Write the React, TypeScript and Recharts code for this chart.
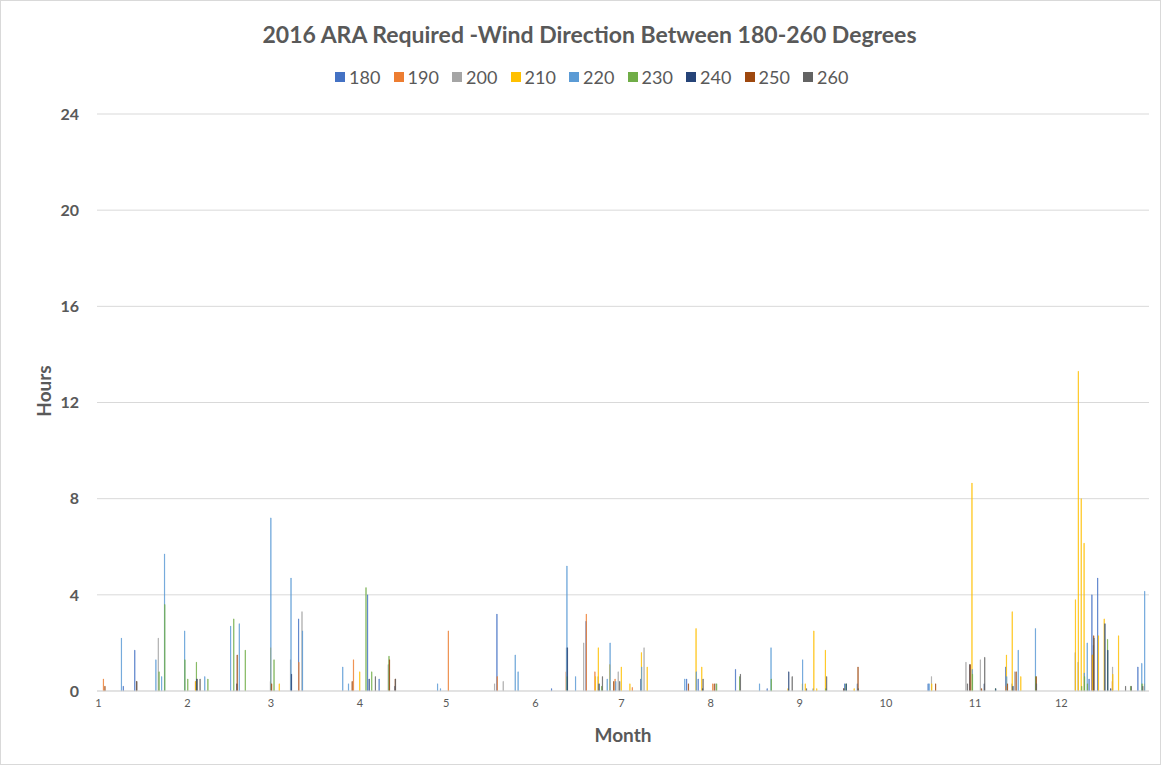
import { BarChart, Bar, XAxis, YAxis, CartesianGrid } from 'recharts';

// day-of-year (2016, leap year) on which each month starts
const monthStarts = [1, 32, 61, 92, 122, 153, 183, 214, 245, 275, 306, 336];
const hourTicks = [0, 4, 8, 12, 16, 20, 24];
const days = Array.from({ length: 366 }, (_, i) => i + 1);

// [day of year, hours] per wind direction
const dir180: [number, number][] = [
  [10, 0.2], [14, 1.7], [71, 3.0], [95, 4.0], [99, 0.5], [140, 3.2], [159, 0.1],
  [171, 2.9], [190, 0.5], [206, 0.5], [210, 0.5], [223, 0.9], [234, 0.1], [250, 0.1],
  [261, 0.3], [290, 0.3], [317, 1.0], [346, 0.5], [347, 4.0], [349, 4.7], [363, 1.0],
];
const dir190: [number, number][] = [
  [3, 0.5], [35, 0.4], [71, 1.2], [90, 1.3], [123, 2.5], [140, 0.6], [164, 0.8],
  [171, 3.2], [174, 0.8], [181, 0.5], [187, 0.15], [215, 0.3], [317, 0.2], [347, 1.5],
  [354, 0.4],
];
const dir200: [number, number][] = [
  [22, 2.2], [61, 0.4], [68, 1.3], [72, 3.3], [102, 1.1], [139, 0.3], [142, 0.4],
  [164, 1.8], [170, 2.0], [175, 0.6], [182, 0.8], [191, 1.8], [216, 0.3], [291, 0.6],
  [303, 1.2], [308, 1.3], [319, 0.3], [320, 0.8], [341, 1.6], [342, 1.2], [354, 1.0],
];
const dir210: [number, number][] = [
  [35, 0.4], [61, 1.8], [64, 0.3], [92, 0.8], [174, 0.6], [175, 1.8], [179, 1.1],
  [183, 1.0], [186, 0.3], [190, 1.6], [192, 1.0], [209, 2.6], [211, 1.0], [241, 0.1],
  [246, 0.3], [247, 0.3], [250, 2.5], [251, 0.1], [254, 1.7], [264, 0.1], [291, 0.3],
  [305, 8.65], [317, 1.5], [319, 3.3], [322, 0.6], [341, 3.8], [342, 13.3], [343, 8.0],
  [344, 6.15], [347, 1.5], [349, 2.3], [351, 3.0], [354, 0.7], [356, 2.3], [365, 0.3],
];
const dir220: [number, number][] = [
  [9, 2.2], [21, 1.3], [23, 0.6], [24, 5.7], [31, 2.5], [38, 0.6], [47, 2.7], [50, 2.8],
  [61, 7.2], [68, 4.7], [72, 2.5], [86, 1.0], [88, 0.3], [119, 0.3], [120, 0.1],
  [146, 1.5], [147, 0.8], [164, 5.2], [167, 0.6], [178, 0.5], [179, 2.0], [181, 0.4],
  [190, 1.0], [205, 0.5], [209, 0.8], [231, 0.3], [235, 1.8], [246, 1.3], [265, 0.3],
  [290, 0.3], [305, 0.9], [317, 0.6], [321, 1.7], [327, 2.6], [344, 0.75], [345, 2.0],
  [364, 1.15], [365, 4.15],
];
const dir230: [number, number][] = [
  [22, 0.8], [24, 3.6], [31, 1.3], [32, 0.5], [35, 1.2], [39, 0.5], [48, 3.0],
  [52, 1.7], [62, 1.3], [94, 4.3], [96, 0.8], [102, 1.45], [164, 0.6], [176, 0.2],
  [216, 0.3], [224, 0.6], [235, 0.5], [254, 0.1], [261, 0.3], [305, 0.7], [313, 0.1],
  [327, 0.6], [343, 0.2], [344, 0.6], [345, 0.3], [352, 2.15], [360, 0.2], [364, 0.3],
];
const dir240: [number, number][] = [
  [35, 0.5], [49, 0.3], [68, 0.7], [95, 0.5], [104, 0.2], [164, 1.8], [175, 0.3],
  [211, 0.1], [241, 0.8], [261, 0.3], [304, 1.1], [309, 0.3], [313, 0.1], [319, 0.2],
  [347, 1.9], [351, 2.8], [352, 1.7], [353, 0.1],
];
const dir250: [number, number][] = [
  [3, 0.2], [14, 0.4], [49, 1.5], [61, 0.3], [89, 0.4], [102, 1.3], [104, 0.5],
  [180, 0.4], [206, 0.3], [215, 0.3], [260, 0.1], [265, 1.0], [292, 0.3], [304, 1.1],
  [308, 0.1], [317, 0.3], [320, 0.8], [327, 0.6], [347, 2.3],
];
const dir260: [number, number][] = [
  [14, 0.4], [35, 0.5], [36, 0.5], [97, 0.6], [104, 0.5], [176, 0.6], [182, 0.4],
  [211, 0.5], [224, 0.7], [242, 0.6], [247, 0.1], [254, 0.6], [260, 0.1], [265, 0.1],
  [303, 0.3], [309, 1.4], [327, 0.3], [347, 2.2], [358, 0.2], [360, 0.2], [364, 0.2],
];

const series = [
  { key: '180', color: '#4472C4', values: dir180 },
  { key: '190', color: '#ED7D31', values: dir190 },
  { key: '200', color: '#A5A5A5', values: dir200 },
  { key: '210', color: '#FFC000', values: dir210 },
  { key: '220', color: '#5B9BD5', values: dir220 },
  { key: '230', color: '#70AD47', values: dir230 },
  { key: '240', color: '#264478', values: dir240 },
  { key: '250', color: '#9E480E', values: dir250 },
  { key: '260', color: '#636363', values: dir260 },
];

const data = days.map((day) => {
  const row: Record<string, number> = { day };
  series.forEach((s) => (row[s.key] = 0));
  return row;
});
series.forEach((s) => s.values.forEach(([d, v]) => (data[d - 1][s.key] = v)));

const FONT = 'Lato, "Open Sans", sans-serif';
const GREY = '#595959';

function monthLabel(day: number) {
  const i = monthStarts.indexOf(day);
  return i >= 0 ? String(i + 1) : '';
}

export default function App() {
  return (
    <div
      style={{
        position: 'absolute',
        left: 0,
        top: 0,
        width: 1159,
        height: 763,
        border: '1px solid #d9d9d9',
        background: '#fff',
        fontFamily: FONT,
        color: GREY,
      }}
    >
      <div
        style={{
          position: 'absolute',
          top: 19,
          left: 0,
          width: 1177,
          textAlign: 'center',
          fontSize: 23,
          fontWeight: 700,
        }}
      >
        2016 ARA Required -Wind Direction Between 180-260 Degrees
      </div>
      <div
        style={{
          position: 'absolute',
          top: 66,
          left: 334,
          display: 'flex',
          fontSize: 18,
        }}
      >
        {series.map((s) => (
          <div key={s.key} style={{ display: 'flex', alignItems: 'center', width: 58.5 }}>
            <span style={{ width: 10, height: 10, background: s.color, marginRight: 4 }} />
            <span style={{ lineHeight: '20px' }}>{s.key}</span>
          </div>
        ))}
      </div>
      <div
        style={{
          position: 'absolute',
          left: 42,
          top: 390,
          transform: 'translate(-50%, -50%) rotate(-90deg)',
          fontSize: 19,
          fontWeight: 700,
        }}
      >
        Hours
      </div>
      <div
        style={{
          position: 'absolute',
          left: 622,
          top: 733,
          transform: 'translate(-50%, -50%)',
          fontSize: 19,
          fontWeight: 700,
        }}
      >
        Month
      </div>
      <BarChart
        width={1160}
        height={763}
        data={data}
        margin={{ top: 113, right: 12, bottom: 43, left: 40 }}
        barGap={0}
        barCategoryGap="10%"
      >
        <CartesianGrid vertical={false} stroke="#d9d9d9" />
        <XAxis
          dataKey="day"
          interval={0}
          tickLine={false}
          axisLine={{ stroke: '#d9d9d9' }}
          height={30}
          tick={{ fontSize: 11, fill: GREY, fontFamily: FONT }}
          tickFormatter={monthLabel}
        />
        <YAxis
          domain={[0, 24]}
          ticks={hourTicks}
          width={56}
          tickLine={false}
          axisLine={false}
          tickMargin={12}
          tick={{ fontSize: 16, fontWeight: 700, fill: GREY, fontFamily: FONT }}
        />
        {series.map((s) => (
          <Bar
            key={s.key}
            dataKey={s.key}
            fill={s.color}
            stroke={s.color}
            strokeWidth={0.6}
            isAnimationActive={false}
          />
        ))}
      </BarChart>
    </div>
  );
}
